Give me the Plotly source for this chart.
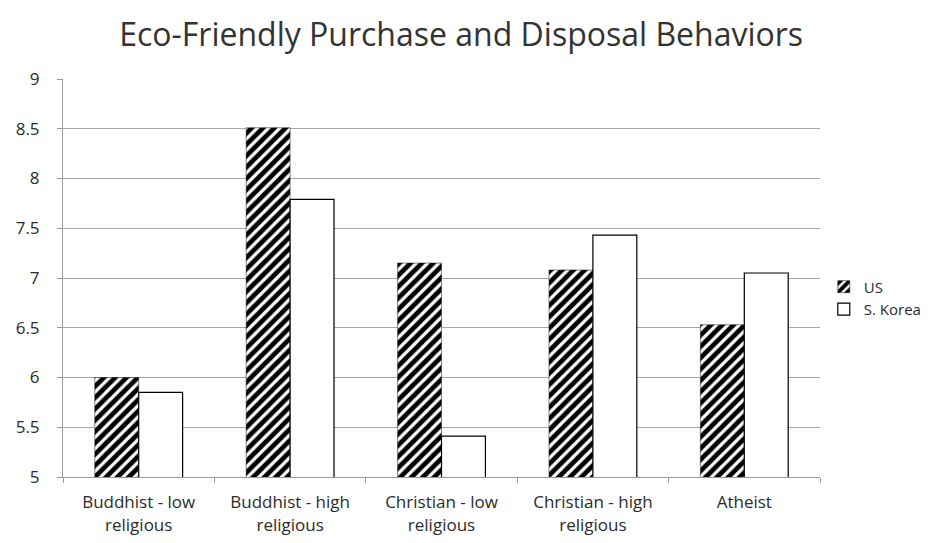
import plotly.graph_objects as go

categories = ["Buddhist - low<br>religious", "Buddhist - high<br>religious",
              "Christian - low<br>religious", "Christian - high<br>religious", "Atheist"]
us_values = [6.0, 8.51, 7.15, 7.08, 6.53]
korea_values = [5.85, 7.79, 5.41, 7.43, 7.05]
y_ticks = [5, 5.5, 6, 6.5, 7, 7.5, 8, 8.5, 9]

fig = go.Figure()
fig.add_trace(go.Bar(
    x=categories, y=us_values, name="US",
    marker=dict(color="white",
                pattern=dict(shape="/", fgcolor="#000000", bgcolor="white", size=8,
                             solidity=0.6, fgopacity=1, fillmode="replace"),
                line=dict(color="#111", width=0.5)),
))
fig.add_trace(go.Bar(
    x=categories, y=korea_values, name="S. Korea",
    marker=dict(color="white", line=dict(color="black", width=1.2)),
))

fig.update_layout(
    width=943, height=543,
    margin=dict(l=63, r=123, t=79, b=66),
    paper_bgcolor="white", plot_bgcolor="white",
    barmode="group", bargap=0.42, bargroupgap=0,
    title=dict(text="Eco-Friendly Purchase and Disposal Behaviors", x=0.489, xanchor="center",
               y=0.935, yanchor="middle",
               font=dict(family="Open Sans", size=32, color="#333")),
    font=dict(family="Open Sans", size=17, color="#2b2b2b"),
    legend=dict(x=1.005, xanchor="left", y=0.45, yanchor="middle",
                font=dict(size=15, color="#2b2b2b"), tracegroupgap=6, itemwidth=30),
    showlegend=True,
)
fig.update_xaxes(showline=True, linecolor="#999", linewidth=1, ticks="outside",
                 tickson="boundaries", ticklen=5, tickcolor="#999", showgrid=False,
                 tickfont=dict(size=17), ticklabelstandoff=10, automargin=False)
fig.update_yaxes(range=[5, 9], tickvals=y_ticks, ticktext=[str(v) for v in y_ticks],
                 showgrid=True, gridcolor="#a6a6a6", gridwidth=1,
                 showline=True, linecolor="#999", ticks="outside", ticklen=5, tickcolor="#999",
                 zeroline=False, tickfont=dict(size=17), ticklabelstandoff=14, automargin=False)

fig.write_html("out.html")
